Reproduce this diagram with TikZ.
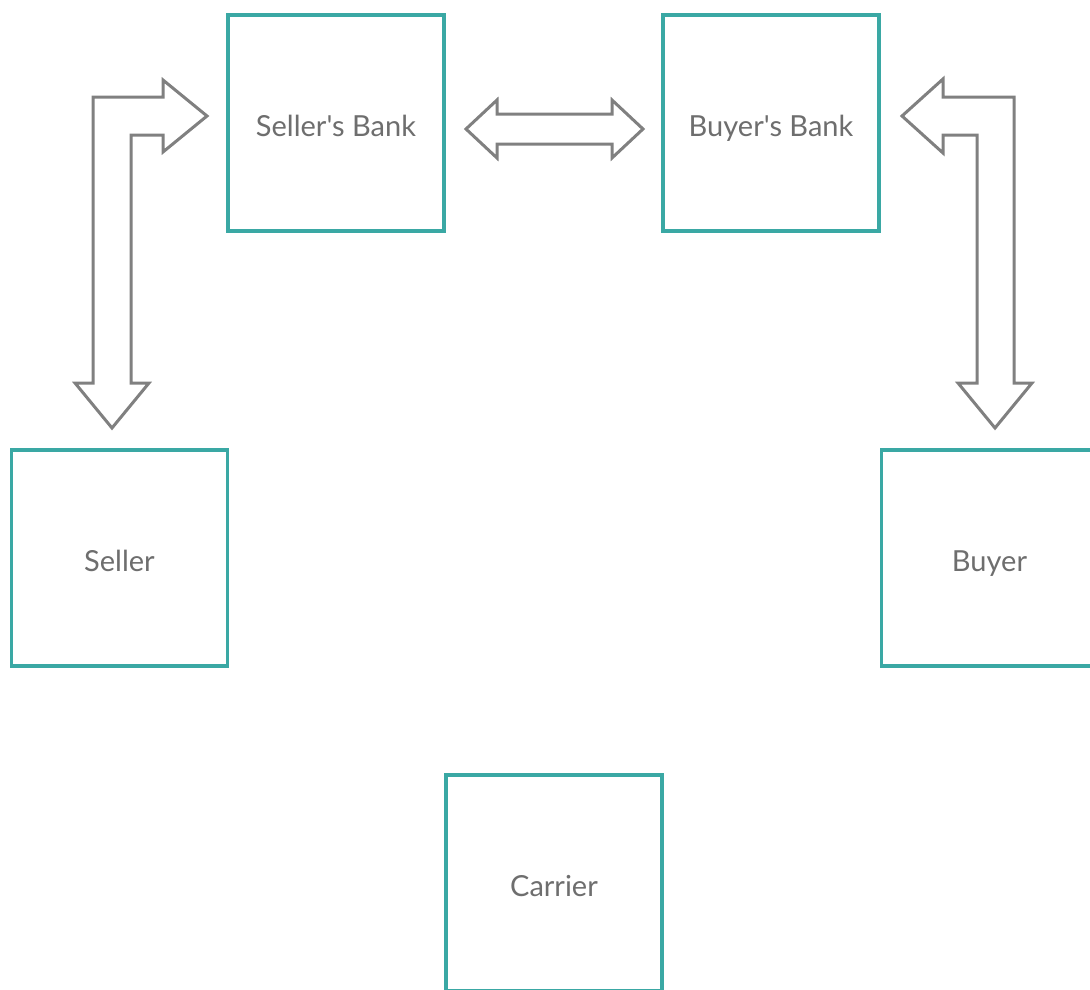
\documentclass[tikz,border=0pt]{standalone}
\usepackage{fontspec}
\setmainfont{Lato}[Ligatures=TeXOff]
\definecolor{boxteal}{RGB}{58,168,164}
\definecolor{arrowgray}{RGB}{128,128,128}
\definecolor{textgray}{RGB}{110,110,110}
\tikzset{
  party/.style={draw=boxteal, line width=3.2pt, fill=white, minimum width=216pt, minimum height=216pt, inner sep=0pt, text=textgray, font=\fontsize{29}{34}\selectfont, text height=27pt, text depth=0pt},
  blockarrow/.style={draw=arrowgray, line width=3pt, fill=white, line join=miter}
}
\begin{document}
\begin{tikzpicture}[x=1pt,y=-1pt]
\useasboundingbox (0,0) rectangle (1090,990);
\clip (0,0) rectangle (1090,990);
\node[party] (sb) at (336,123) {Seller's Bank};
\node[party] (bb) at (771,123) {Buyer's Bank};
\node[party] (seller) at (119.5,558) {Seller};
\node[party] (buyer) at (989.5,558) {Buyer};
\node[party] (carrier) at (554,883) {Carrier};
% double arrow between banks
\draw[blockarrow] (466,129) -- (497,100) -- (497,114) -- (612,114) -- (612,100) -- (643,129) -- (612,158) -- (612,144) -- (497,144) -- (497,158) -- cycle;
% left bent arrow
\draw[blockarrow] (207,116) -- (163,80) -- (163,97) -- (93,97) -- (93,383) -- (75,383) -- (112,428) -- (149,383) -- (131,383) -- (131,135) -- (163,135) -- (163,152) -- cycle;
% right bent arrow
\draw[blockarrow] (902,116) -- (943,79) -- (943,97) -- (1014,97) -- (1014,383) -- (1032,383) -- (995,428) -- (958,383) -- (977,383) -- (977,135) -- (943,135) -- (943,153) -- cycle;
\end{tikzpicture}
\end{document}
